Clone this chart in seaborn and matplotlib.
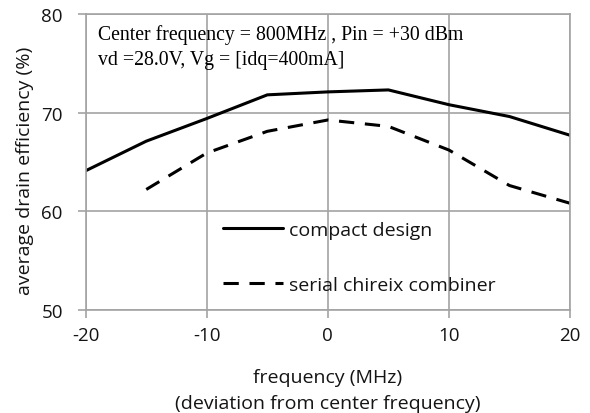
import matplotlib
matplotlib.use("Agg")
import matplotlib.pyplot as plt
import seaborn as sns
import pandas as pd

freq_compact = [-20, -15, -10, -5, 0, 5, 10, 15, 20]
eff_compact = [64.1, 67.1, 69.4, 71.8, 72.1, 72.3, 70.8, 69.6, 67.7]
freq_serial = [-15, -10, -5, 0, 5, 10, 15, 20]
eff_serial = [62.2, 65.9, 68.1, 69.25, 68.6, 66.2, 62.6, 60.8]
series_names = ["compact design", "serial chireix combiner"]
xticks = [-20, -10, 0, 10, 20]
yticks = [50, 60, 70, 80]
note_lines = ["Center frequency = 800MHz , Pin = +30 dBm", "vd =28.0V, Vg = [idq=400mA]"]

df = pd.concat([
    pd.DataFrame({"freq": freq_compact, "eff": eff_compact, "series": series_names[0]}),
    pd.DataFrame({"freq": freq_serial, "eff": eff_serial, "series": series_names[1]}),
])

sns.set_style("white")
plt.rcParams["font.family"] = ["Open Sans", "DejaVu Sans"]
plt.rcParams["axes.unicode_minus"] = False

txt = "#141414"
grid_c = "#a3a3a3"

fig = plt.figure(figsize=(5.9, 4.14), dpi=100)
ax = fig.add_axes([0.1453, 0.2495, 0.8208, 0.7142])

sns.lineplot(data=df, x="freq", y="eff", hue="series", style="series",
             palette=["black", "black"], dashes=[(None, None), (5, 3.5)],
             linewidth=2.2, ax=ax)

ax.set_xlim(-20, 20)
ax.set_ylim(50, 80)
ax.set_xticks(xticks)
ax.set_yticks(yticks)
ax.grid(True, color=grid_c, linewidth=1.2)
for s in ax.spines.values():
    s.set_color(grid_c)
    s.set_linewidth(1.2)
ax.tick_params(axis="both", which="both", direction="out", length=5.5, width=1.2,
               color=grid_c, labelsize=13.5, labelcolor=txt, bottom=True, left=True)
ax.tick_params(axis="x", pad=6)
ax.tick_params(axis="y", pad=11)

ax.set_xlabel("frequency (MHz)\n(deviation from center frequency)", fontsize=14,
              color=txt, linespacing=1.6, va="center")
ax.xaxis.set_label_coords(0.5, -0.2715)
ax.set_ylabel("average drain efficiency (%)", fontsize=14, color=txt, va="center")
ax.yaxis.set_label_coords(-0.125, 0.474)

leg = ax.legend(loc="upper left", bbox_to_anchor=(0.2835, 0.30), frameon=False,
                fontsize=14, handlelength=3.1, handletextpad=0.3, labelspacing=1.9,
                borderpad=0, borderaxespad=0)
for t in leg.get_texts():
    t.set_color(txt)

ax.text(0.026, 0.9155, note_lines[0], transform=ax.transAxes, ha="left", va="baseline",
        fontsize=14.2, family=["Liberation Serif"], color="black")
ax.text(0.026, 0.831, note_lines[1], transform=ax.transAxes, ha="left", va="baseline",
        fontsize=14.2, family=["Liberation Serif"], color="black")

fig.savefig("out.png", dpi=100)
